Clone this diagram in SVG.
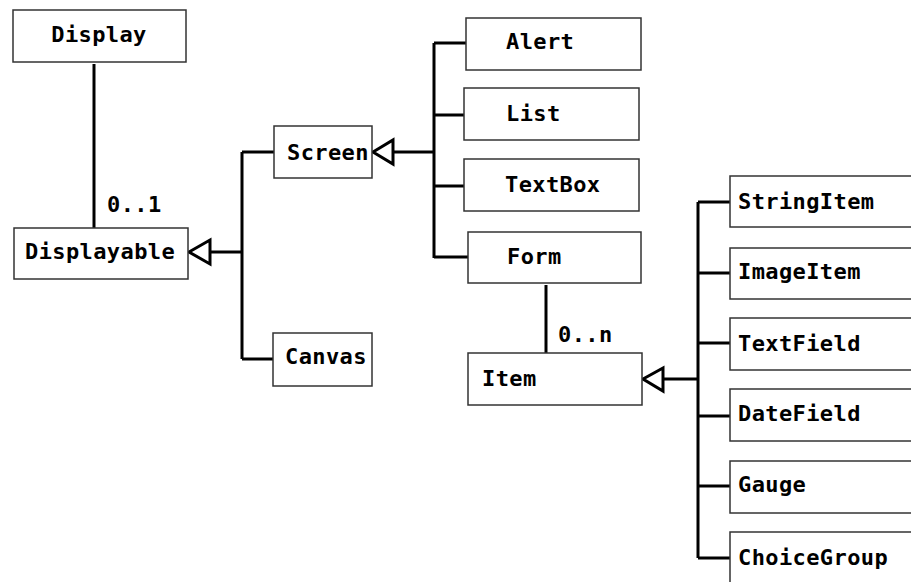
<svg xmlns="http://www.w3.org/2000/svg" width="911" height="582" viewBox="0 0 911 582">
<style>
.box{fill:#fff;stroke:#333;stroke-width:1.5}
.lbl{font-family:"DejaVu Sans Mono","Liberation Mono",monospace;font-weight:bold;font-size:22px;letter-spacing:0.4px;fill:#000}
.ln{fill:none;stroke:#000;stroke-width:3}
.tri{fill:#fff;stroke:#000;stroke-width:3;stroke-linejoin:miter}
</style>
<rect width="911" height="582" fill="#fff"/>
<g id="connectors">
<path class="ln" d="M94 64V228"/>
<path class="ln" d="M210 252H242M242 152V359M242 152H274M242 359H273"/>
<path class="ln" d="M393 152H434M434 43V258M434 43H466M434 115H464M434 186H464M434 257H468"/>
<path class="ln" d="M546 285V353"/>
<path class="ln" d="M663 379H698M698 202V558M698 202H730M698 273H730M698 343H730M698 416H730M698 486H730M698 558H730"/>
<polygon class="tri" points="189,252 210,240 210,264"/>
<polygon class="tri" points="373,152 393,140 393,164"/>
<polygon class="tri" points="643,379 663,368 663,391"/>
<text class="lbl" x="107" y="212">0..1</text>
<text class="lbl" x="558" y="342">0..n</text>
</g>
<g id="Display"><rect class="box" x="13" y="10" width="173" height="52"/><text class="lbl" x="99" y="42" text-anchor="middle">Display</text></g>
<g id="Displayable"><rect class="box" x="14" y="228" width="174" height="51"/><text class="lbl" x="25" y="259">Displayable</text></g>
<g id="Screen"><rect class="box" x="274" y="126" width="98" height="52"/><text class="lbl" x="287" y="160">Screen</text></g>
<g id="Canvas"><rect class="box" x="273" y="333" width="99" height="53"/><text class="lbl" x="285" y="364">Canvas</text></g>
<g id="Alert"><rect class="box" x="466" y="18" width="175" height="52"/><text class="lbl" x="506" y="49">Alert</text></g>
<g id="List"><rect class="box" x="464" y="88" width="175" height="52"/><text class="lbl" x="506" y="121">List</text></g>
<g id="TextBox"><rect class="box" x="464" y="159" width="175" height="52"/><text class="lbl" x="505" y="192">TextBox</text></g>
<g id="Form"><rect class="box" x="468" y="232" width="173" height="51"/><text class="lbl" x="507" y="264">Form</text></g>
<g id="Item"><rect class="box" x="468" y="353" width="174" height="52"/><text class="lbl" x="482" y="386">Item</text></g>
<g id="StringItem"><rect class="box" x="730" y="176" width="200" height="51"/><text class="lbl" x="738" y="209">StringItem</text></g>
<g id="ImageItem"><rect class="box" x="730" y="248" width="200" height="51"/><text class="lbl" x="738" y="279">ImageItem</text></g>
<g id="TextField"><rect class="box" x="730" y="318" width="200" height="52"/><text class="lbl" x="738" y="351">TextField</text></g>
<g id="DateField"><rect class="box" x="730" y="389" width="200" height="52"/><text class="lbl" x="738" y="421">DateField</text></g>
<g id="Gauge"><rect class="box" x="730" y="461" width="200" height="52"/><text class="lbl" x="738" y="492">Gauge</text></g>
<g id="ChoiceGroup"><rect class="box" x="730" y="532" width="200" height="60"/><text class="lbl" x="738" y="565">ChoiceGroup</text></g>
</svg>
